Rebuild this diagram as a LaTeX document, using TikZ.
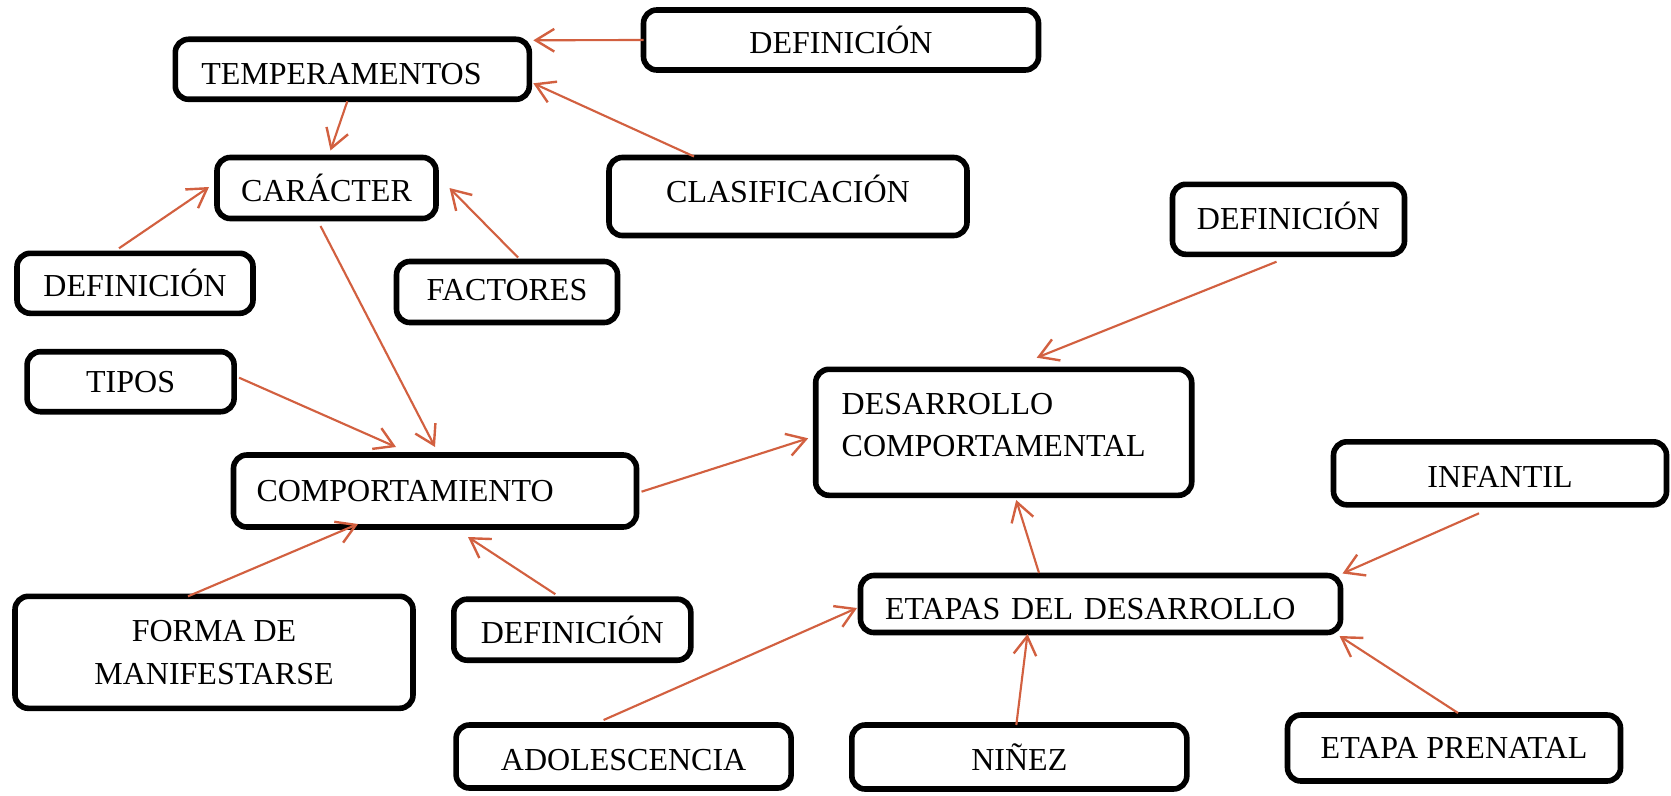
\documentclass[tikz,border=0pt]{standalone}
\usepackage{fontspec}
\setmainfont{Liberation Serif}
\usetikzlibrary{arrows.meta,calc}
\definecolor{arrowcol}{RGB}{210,96,64}
\tikzset{
  box/.style={draw=black, line width=2.1pt, rounded corners=5pt, inner sep=0pt, outer sep=0pt,
    font=\fontsize{12}{16}\selectfont, align=center, fill=white},
  sz/.style 2 args={minimum width=#1*0.375pt, minimum height=#2*0.375pt},
  lft/.style 2 args={text width=#1*0.375pt, inner xsep=#2*0.375pt, align=left},
  conn/.style={draw=arrowcol, line width=0.8pt, -{Straight Barb[length=7pt,width=8.5pt,line width=0.9pt]}}
}
\begin{document}
\begin{tikzpicture}[x=0.375pt,y=-0.375pt]
\useasboundingbox (0,0) rectangle (1671,795);
% boxes
\node[box, sz={354}{60}, lft={302}{26}, text height=11.3pt, text depth=0pt] (temp) at (352.3,69.3) {TEMPERAMENTOS};
\node[box, sz={395}{60}] (deft) at (841,40) {DEFINICIÓN};
\node[box, sz={219}{61}] (car) at (326.5,188) {CARÁCTER};
\node[box, sz={358}{78}, text depth=5.6pt] (clas) at (788,196.5) {CLASIFICACIÓN};
\node[box, sz={236}{60}] (defl) at (135,283.3) {DEFINICIÓN};
\node[box, sz={221}{61}, text depth=1.6pt] (fact) at (507,292) {FACTORES};
\node[box, sz={232}{70}, text depth=2.4pt] (defr) at (1288.5,219.3) {DEFINICIÓN};
\node[box, sz={207}{60}] (tipos) at (130.6,381.7) {TIPOS};
\node[box, sz={376}{126}, lft={324}{26}] (des) at (1003.7,432.3) {\begin{tabular}{@{}l@{}}DESARROLLO\\COMPORTAMENTAL\\[4pt]\end{tabular}};
\node[box, sz={403}{72}, lft={357}{23}] (comp) at (435,491) {COMPORTAMIENTO};
\node[box, sz={333}{63}, text height=10.5pt, text depth=0pt] (inf) at (1500,473.3) {INFANTIL};
\node[box, sz={480}{57}, lft={431}{24.5}, text height=11.3pt, text depth=0pt] (etapas) at (1100.5,604) {ETAPAS DEL DESARROLLO};
\node[box, sz={398}{112}] (forma) at (214,652.3) {FORMA DE\\MANIFESTARSE};
\node[box, sz={237}{61}] (defb) at (572.3,629.7) {DEFINICIÓN};
\node[box, sz={335}{63}, text height=10.5pt, text depth=0pt] (adol) at (623.6,756.5) {ADOLESCENCIA};
\node[box, sz={335}{64}] (ninez) at (1019.3,757) {NIÑEZ};
\node[box, sz={333}{66}] (pren) at (1454,748) {ETAPA PRENATAL};
% connectors
\draw[conn] (deft.west) -- ($(temp.north east)+(4,1)$);
\draw[conn] ($(clas.north)+(-94,-1)$) -- ($(temp.east)+(4,14)$);
\draw[conn] ($(temp.south)+(-5,2)$) -- ($(car.north)+(4,-7)$);
\draw[conn] ($(defl.north)+(-16,-5)$) -- ($(car.west)+(-8,-1)$);
\draw[conn] ($(fact.north)+(11,-4)$) -- ($(car.east)+(13.5,0)$);
\draw[conn] ($(car.south)+(-6,7.5)$) -- ($(comp.north)+(0,-8)$);
\draw[conn] ($(tipos.east)+(5,-4)$) -- ($(comp.north)+(-39,-8)$);
\draw[conn] ($(comp.east)+(5,0.7)$) -- ($(des.west)+(-7.5,6)$);
\draw[conn] ($(forma.north)+(-26,0)$) -- ($(comp.south)+(-77,-3)$);
\draw[conn] ($(defb.north)+(-17,-5)$) -- ($(comp.south)+(33,10)$);
\draw[conn] ($(defr.south)+(-12,7.4)$) -- ($(des.north)+(33,-11.6)$);
\draw[conn] ($(etapas.north)+(-61.5,-2.5)$) -- ($(des.south)+(12.5,4.7)$);
\draw[conn] ($(inf.south)+(-21,8.5)$) -- ($(etapas.north east)+(2,-2)$);
\draw[conn] ($(adol.north)+(-20,-5)$) -- ($(etapas.west)+(-3.5,4)$);
\draw[conn] ($(ninez.north)+(-3,0)$) -- ($(etapas.south)+(-73,1.5)$);
\draw[conn] ($(pren.north)+(4,-2)$) -- ($(etapas.south east)+(-1,3.5)$);
\end{tikzpicture}
\end{document}
